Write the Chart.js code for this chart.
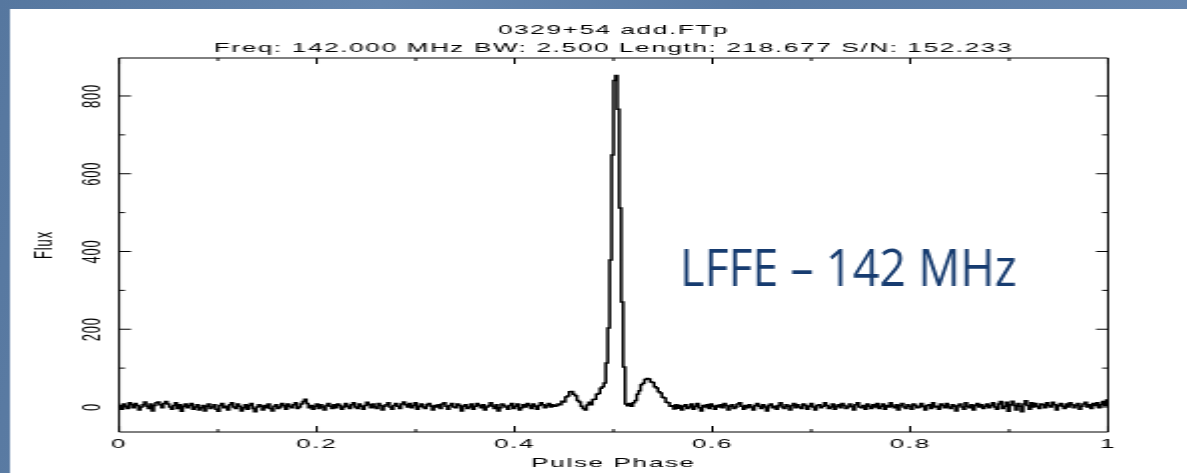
<!DOCTYPE html>
<html><head><meta charset="utf-8">
<script src="https://cdn.jsdelivr.net/npm/chart.js@4.4.1/dist/chart.umd.min.js"></script>
<style>
html,body{margin:0;padding:0;width:1187px;height:473px;overflow:hidden;
 background:#5a7ca6 linear-gradient(100deg,#56779f 0%,#6586ae 30%,#5a7ba4 60%,#6888b0 100%);}
#c{position:absolute;left:0;top:0;width:1187px !important;height:473px !important;}
</style></head><body>
<canvas id="c" width="594" height="473"></canvas>
<script>
const titleLines = ['0329+54 add.FTp', 'Freq: 142.000 MHz BW: 2.500 Length: 218.677 S/N: 152.233'];
const xTitle = 'Pulse Phase';
const yTitle = 'Flux';
const annotation = 'LFFE \u2013 142 MHz';

const phaseTicks = [0, 0.2, 0.4, 0.6, 0.8, 1];
const phaseTickLabels = ['0', '0.2', '0.4', '0.6', '0.8', '1'];
const phaseMinorTicks = [0.1, 0.3, 0.5, 0.7, 0.9];
const fluxTicks = [0, 200, 400, 600, 800];
const fluxTickLabels = ['0', '200', '400', '600', '800'];
const fluxMinorTicks = [100, 300, 500, 700];

// profile bins 0-225 (off-pulse)
const fluxOffA = [
 4,-6,8,2,-4,11,6,-2,9,4,-8,0,6,13,2,-4,8,-10,4,11,
 13,6,-2,9,14,8,0,-6,4,11,-4,6,-11,2,8,-2,4,9,-6,0,
 6,-8,-2,4,-10,2,8,-4,0,6,-6,-11,4,9,-2,2,-8,6,11,0,
 -4,8,2,-10,-2,6,-6,4,9,-4,-12,0,6,2,-8,4,-2,8,-4,-10,
 2,6,-4,0,9,4,-6,8,2,-2,6,11,-4,0,8,14,20,9,-2,4,
 -6,2,8,-4,6,0,-8,4,9,2,-4,6,-2,8,4,-6,0,9,2,-4,
 6,11,0,-4,8,2,-6,4,12,6,-2,8,0,-4,9,4,-8,2,6,11,
 0,-6,4,9,2,-4,8,13,6,0,9,-2,4,11,-6,2,8,0,-4,6,
 9,2,-8,4,0,6,-4,8,11,2,-6,4,9,0,-2,8,4,-10,2,6,
 -4,0,8,-6,2,9,4,-2,6,-8,0,4,11,2,-4,6,-10,-2,8,4,
 0,-6,4,9,-4,2,8,-8,-2,6,0,9,4,-4,8,2,-6,4,11,6,
 -2,4,9,0,6,2
];
// profile bins 226-289 (pulse window)
const fluxPulse = [
 3,8,6,15,13,26,28,39,40,33,
 29,17,13,2,-4,-8,5,12,6,19,
 20,33,35,48,52,62,113,203,378,648,
 840,853,766,512,270,103,8,3,9,2,
 11,17,33,42,57,61,71,73,72,64,
 63,52,49,39,36,25,23,12,11,2,
 3,-5,6,-3
];
// profile bins 290-511 (off-pulse)
const fluxOffB = [
 4,-8,2,6,-4,0,8,-6,2,9,-2,-10,4,0,6,-4,8,2,-6,4,
 0,6,-2,9,4,-8,2,6,-4,0,8,11,2,-6,4,-2,6,0,-8,4,
 9,2,-4,6,0,-10,4,8,-2,2,-6,4,11,0,-4,6,2,-8,4,9,
 -2,6,0,-4,8,4,-6,2,9,0,-8,4,6,-2,2,11,4,-4,0,8,
 -6,2,6,-2,9,4,-4,0,8,2,-8,6,11,0,-2,4,-6,8,2,-4,
 6,0,9,-4,2,8,-6,4,0,11,2,-2,6,-8,4,9,0,-4,6,2,
 -6,8,4,-2,0,9,2,-8,4,6,-4,11,0,2,-6,8,4,-2,9,0,
 -4,6,2,-10,4,8,0,-6,11,2,-2,6,-8,4,9,0,6,-4,2,8,
 -2,4,11,0,-6,8,14,-4,2,12,-11,6,15,4,-8,9,2,-12,8,16,
 4,-6,11,0,9,2,-4,8,6,-2,11,4,0,12,6,-8,4,9,2,-4,
 8,0,11,6,-2,4,9,-6,2,8,12,0,6,-4,9,4,11,-2,6,14,4,18
];

const flux = fluxOffA.concat(fluxPulse, fluxOffB);
const nBins = flux.length;
const points = flux.map((v, i) => ({x: i / nBins, y: v}));
points.push({x: 1, y: flux[nBins - 1]});

const K = 1187 / 594; // horizontal stretch of the canvas on screen
const LS = '0.85px';

const pgplot = {
  id: 'pgplot',
  beforeUpdate(chart) { chart.ctx.letterSpacing = LS; },
  beforeDraw(chart) {
    const ctx = chart.ctx;
    ctx.save();
    ctx.fillStyle = '#ffffff';
    ctx.fillRect(10 / K, 9, chart.width, chart.height);
    ctx.restore();
    ctx.letterSpacing = LS;
  },
  afterDatasetsDraw(chart) {
    const ctx = chart.ctx, a = chart.chartArea;
    const xs = chart.scales.x, ys = chart.scales.y;
    ctx.save();
    ctx.strokeStyle = '#000';
    ctx.lineWidth = 1;
    ctx.beginPath();
    ctx.rect(a.left, a.top, a.right - a.left, a.bottom - a.top);
    const yt = (v, len) => { const p = ys.getPixelForValue(v);
      ctx.moveTo(a.left, p); ctx.lineTo(a.left + len, p);
      ctx.moveTo(a.right, p); ctx.lineTo(a.right - len, p); };
    const xt = (v, len) => { const p = xs.getPixelForValue(v);
      ctx.moveTo(p, a.bottom); ctx.lineTo(p, a.bottom - len);
      ctx.moveTo(p, a.top); ctx.lineTo(p, a.top + len); };
    fluxTicks.forEach(v => yt(v, 6));
    fluxMinorTicks.forEach(v => yt(v, 3));
    phaseTicks.forEach(v => xt(v, 6));
    phaseMinorTicks.forEach(v => xt(v, 3));
    ctx.stroke();
    ctx.restore();

    ctx.save();
    ctx.letterSpacing = '0px';
    ctx.translate(680 / K, 286);
    ctx.scale(0.915 / K, 1);
    ctx.font = '51px "Open Sans"';
    ctx.fillStyle = '#173c70';
    ctx.textAlign = 'left';
    ctx.textBaseline = 'alphabetic';
    ctx.fillText(annotation, 0, 0);
    ctx.restore();
  }
};

Chart.defaults.font.family = '"Liberation Sans", Arial, sans-serif';
Chart.defaults.font.size = 13;
Chart.defaults.color = '#000';

new Chart(document.getElementById('c'), {
  type: 'line',
  data: { datasets: [{
    data: points,
    borderColor: '#000',
    borderWidth: 1.5,
    pointRadius: 0,
    stepped: true,
    fill: false
  }]},
  options: {
    responsive: false,
    animation: false,
    devicePixelRatio: 1,
    layout: { padding: { left: 0, right: 39.53, top: 0, bottom: 0 } },
    plugins: {
      legend: { display: false },
      tooltip: { enabled: false },
      title: {
        display: true, text: titleLines, fullSize: false, color: '#000',
        font: { size: 13, weight: 'normal', lineHeight: 1.35 },
        padding: { top: 21.7, bottom: 1.2 }
      }
    },
    scales: {
      x: {
        type: 'linear', min: 0, max: 1,
        afterBuildTicks: s => { s.ticks = phaseTicks.map(v => ({value: v})); },
        afterFit: s => { s.height = 41; },
        ticks: { callback: (v, i) => phaseTickLabels[i], padding: 5, autoSkip: false, maxRotation: 0, color: '#000' },
        grid: { display: false, drawTicks: false },
        border: { display: false },
        title: { display: true, text: xTitle, color: '#000', padding: { top: 0, bottom: 2.2 } }
      },
      y: {
        type: 'linear', min: -64.3, max: 897.7,
        afterBuildTicks: s => { s.ticks = fluxTicks.map(v => ({value: v})); },
        afterFit: s => { s.width = 59.55; },
        ticks: { callback: (v, i) => fluxTickLabels[i], minRotation: 90, maxRotation: 90, crossAlign: 'center', padding: 1, color: '#000' },
        grid: { display: false, drawTicks: false },
        border: { display: false },
        title: { display: true, text: yTitle, color: '#000', padding: { top: 15, bottom: 0 } }
      }
    }
  },
  plugins: [pgplot]
});
</script>
</body></html>
